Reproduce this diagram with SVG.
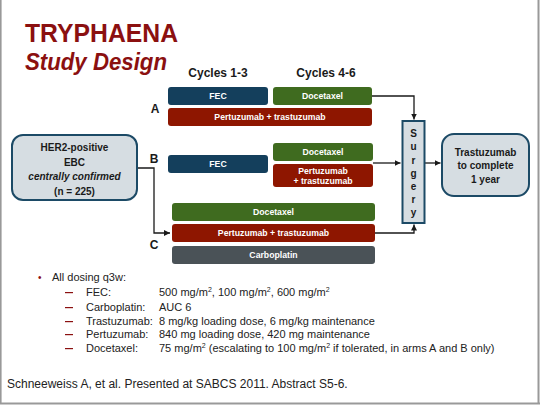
<svg xmlns="http://www.w3.org/2000/svg" width="540" height="405" viewBox="0 0 540 405">
<defs>
<marker id="ah" markerWidth="8" markerHeight="8" refX="6" refY="3" orient="auto" markerUnits="userSpaceOnUse">
<path d="M0,0 L6,3 L0,6 z" fill="#1a1a1a"/>
</marker>
<style>
.t{font-family:"Liberation Sans",Arial,sans-serif;}
.bx{font-family:"Liberation Sans",Arial,sans-serif;font-weight:bold;font-size:8.7px;fill:#fff;text-anchor:middle;}
.lb{font-family:"Liberation Sans",Arial,sans-serif;font-weight:bold;font-size:12px;fill:#1a1a1a;}
.nd{font-family:"Liberation Sans",Arial,sans-serif;font-weight:bold;font-size:10px;fill:#1a1a1a;text-anchor:middle;}
.fec{fill:#143f5c;}
.doc{fill:#3f6b1f;}
.per{fill:#8e1600;}
.car{fill:#4a5257;}
.cn{fill:none;stroke:#1a1a1a;stroke-width:1.3;}
.bd{font-family:"Liberation Sans",Arial,sans-serif;font-size:11px;fill:#222;}
</style>
</defs>
<rect x="0" y="0" width="540" height="405" fill="#fff"/>
<line x1="0.8" y1="0" x2="0.8" y2="404" stroke="#999" stroke-width="1.6"/>
<line x1="538.5" y1="0" x2="538.5" y2="404" stroke="#999" stroke-width="2"/>
<line x1="0" y1="403.5" x2="540" y2="403.5" stroke="#999" stroke-width="2"/>

<g id="title">
<text class="t" x="25" y="42" font-size="26" font-weight="bold" fill="#8b1010" textLength="153" lengthAdjust="spacingAndGlyphs">TRYPHAENA</text>
<text class="t" x="25" y="70" font-size="24" font-weight="bold" font-style="italic" fill="#8b1010" textLength="142" lengthAdjust="spacingAndGlyphs">Study Design</text>
</g>

<g id="headers">
<text class="lb" x="218" y="77" text-anchor="middle">Cycles 1-3</text>
<text class="lb" x="326" y="77" text-anchor="middle">Cycles 4-6</text>
<text class="lb" x="155" y="113" text-anchor="middle">A</text>
<text class="lb" x="154" y="163" text-anchor="middle">B</text>
<text class="lb" x="154" y="249" text-anchor="middle">C</text>
</g>

<g id="connectors">
<polyline class="cn" points="137,168 154,168 154,233 170,233" marker-end="url(#ah)"/>
<polyline class="cn" points="372,96 414,96 414,119.5" marker-end="url(#ah)"/>
<line class="cn" x1="373" y1="163" x2="400.5" y2="163" marker-end="url(#ah)"/>
<polyline class="cn" points="375,233 414,233 414,224.5" marker-end="url(#ah)"/>
<line class="cn" x1="424" y1="163" x2="440.5" y2="163" marker-end="url(#ah)"/>
</g>

<g id="her2">
<rect x="12" y="135" width="125" height="65" rx="11" fill="#d6dde2" stroke="#1c4a66" stroke-width="2"/>
<text class="nd" x="74.5" y="151">HER2-positive</text>
<text class="nd" x="74.5" y="166">EBC</text>
<text class="nd" x="74.5" y="180" font-style="italic">centrally confirmed</text>
<text class="nd" x="74.5" y="195">(n = 225)</text>
</g>

<g id="armA-fec"><rect class="fec" x="168" y="87" width="100" height="18" rx="3"/><text class="bx" x="218" y="99">FEC</text></g>
<g id="armA-doc"><rect class="doc" x="273" y="87" width="99" height="18" rx="3"/><text class="bx" x="322.5" y="99">Docetaxel</text></g>
<g id="armA-pt"><rect class="per" x="168" y="108" width="204" height="18" rx="3"/><text class="bx" x="270" y="120">Pertuzumab + trastuzumab</text></g>

<g id="armB-fec"><rect class="fec" x="168" y="155" width="100" height="18" rx="3"/><text class="bx" x="218" y="167">FEC</text></g>
<g id="armB-doc"><rect class="doc" x="273" y="143" width="100" height="18" rx="3"/><text class="bx" x="323" y="155">Docetaxel</text></g>
<g id="armB-pt"><rect class="per" x="273" y="164" width="100" height="23" rx="3"/><text class="bx" x="323" y="174">Pertuzumab</text><text class="bx" x="323" y="184">+ trastuzumab</text></g>

<g id="armC-doc"><rect class="doc" x="172" y="203" width="203" height="18" rx="3"/><text class="bx" x="273.5" y="215">Docetaxel</text></g>
<g id="armC-pt"><rect class="per" x="172" y="224" width="203" height="18" rx="3"/><text class="bx" x="273.5" y="236">Pertuzumab + trastuzumab</text></g>
<g id="armC-carbo"><rect class="car" x="172" y="246" width="203" height="18" rx="3"/><text class="bx" x="273.5" y="258">Carboplatin</text></g>

<g id="surgery">
<rect x="402.5" y="121" width="22" height="102" fill="#d6dde2" stroke="#1c4a66" stroke-width="2"/>
<g class="nd" font-size="10">
<text x="413.5" y="137">S</text>
<text x="413.5" y="150">u</text>
<text x="413.5" y="163.5">r</text>
<text x="413.5" y="176.5">g</text>
<text x="413.5" y="190">e</text>
<text x="413.5" y="203">r</text>
<text x="413.5" y="216">y</text>
</g>
</g>

<g id="trastuzumab">
<rect x="442" y="134" width="87" height="62" rx="12" fill="#d6dde2" stroke="#1c4a66" stroke-width="2"/>
<text class="nd" x="485.5" y="156">Trastuzumab</text>
<text class="nd" x="485.5" y="169">to complete</text>
<text class="nd" x="485.5" y="183">1 year</text>
</g>

<g id="notes">
<text class="bd" x="38" y="281" style="fill:#8b1010;font-size:10px">•</text>
<text class="bd" x="52" y="281">All dosing q3w:</text>
<g fill="#8b1010">
<rect x="65" y="292" width="8" height="1.2"/>
<rect x="65" y="307" width="8" height="1.2"/>
<rect x="65" y="321" width="8" height="1.2"/>
<rect x="65" y="334" width="8" height="1.2"/>
<rect x="65" y="348" width="8" height="1.2"/>
</g>
<text class="bd" x="86" y="296">FEC:</text>
<text class="bd" x="86" y="311">Carboplatin:</text>
<text class="bd" x="86" y="325">Trastuzumab:</text>
<text class="bd" x="86" y="338">Pertuzumab:</text>
<text class="bd" x="86" y="352">Docetaxel:</text>
<text class="bd" x="159" y="296">500 mg/m<tspan font-size="7" dy="-4">2</tspan><tspan dy="4">, 100 mg/m</tspan><tspan font-size="7" dy="-4">2</tspan><tspan dy="4">, 600 mg/m</tspan><tspan font-size="7" dy="-4">2</tspan></text>
<text class="bd" x="159" y="311">AUC 6</text>
<text class="bd" x="159" y="325">8 mg/kg loading dose, 6 mg/kg maintenance</text>
<text class="bd" x="159" y="338">840 mg loading dose, 420 mg maintenance</text>
<text class="bd" x="159" y="352">75 mg/m<tspan font-size="7" dy="-4">2</tspan><tspan dy="4"> (escalating to 100 mg/m</tspan><tspan font-size="7" dy="-4">2</tspan><tspan dy="4"> if tolerated, in arms A and B only)</tspan></text>
</g>

<g id="citation">
<text class="t" x="7" y="388" font-size="12" fill="#222">Schneeweiss A, et al. Presented at SABCS 2011. Abstract S5-6.</text>
</g>
</svg>
